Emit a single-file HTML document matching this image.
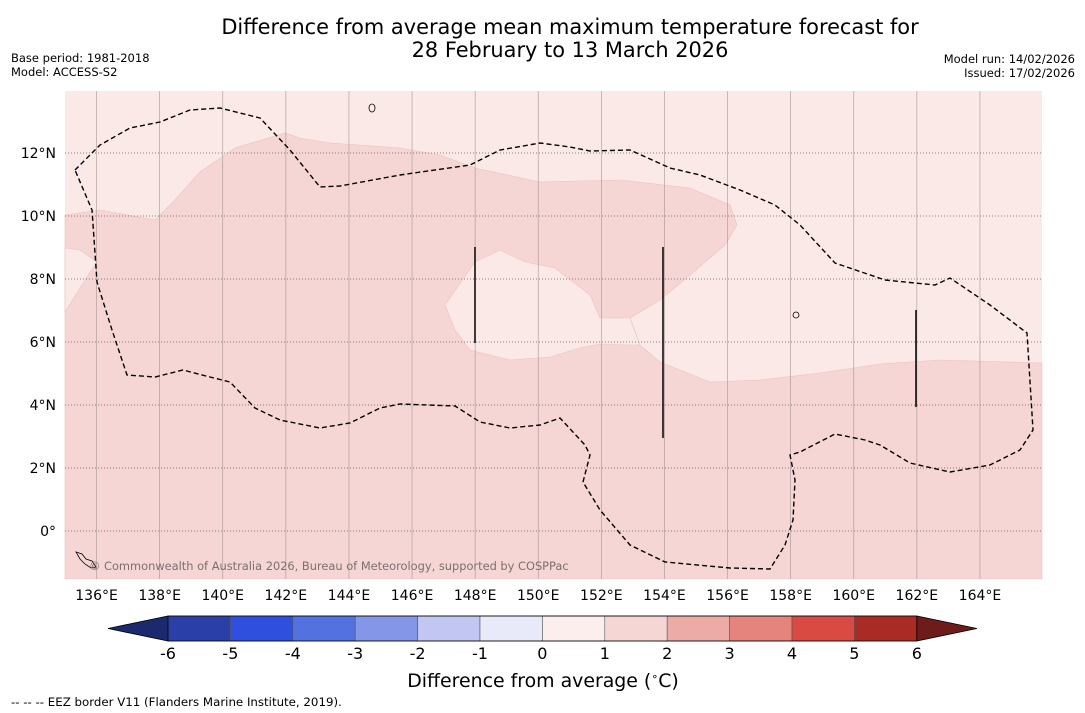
<!DOCTYPE html>
<html><head><meta charset="utf-8">
<style>
body{margin:0;background:#fff;}
svg{display:block;font-family:"DejaVu Sans","Liberation Sans",sans-serif;}
</style></head>
<body>
<svg id="chart" width="1085" height="713" viewBox="0 0 1085 713" xmlns="http://www.w3.org/2000/svg">
<rect width="1085" height="713" fill="#fff"/>
<text x="570" y="34" font-size="20.9" text-anchor="middle" fill="#000">Difference from average mean maximum temperature forecast for</text>
<text x="570" y="57" font-size="20.9" text-anchor="middle" fill="#000">28 February to 13 March 2026</text>
<text x="11" y="62" font-size="11.5">Base period: 1981-2018</text>
<text x="11" y="76" font-size="11.5">Model: ACCESS-S2</text>
<text x="1075" y="63" font-size="11.5" text-anchor="end">Model run: 14/02/2026</text>
<text x="1075" y="77" font-size="11.5" text-anchor="end">Issued: 17/02/2026</text>
<g id="map">
<rect x="65" y="91" width="977" height="488" fill="#fbe9e7"/>
<polygon fill="#f5d6d4" stroke="#e8c4c2" stroke-width="0.6" points="65,215 100,210 155,220 175,200 200,172 235,148 285,133 300,138 330,143 400,148 440,155 475,168 540,182 620,180 690,188 730,205 737,225 725,245 690,275 660,300 630,318 640,345 660,362 710,382 760,380 820,373 880,364 940,360 1042,363 1042,579 65,579"/>
<polygon fill="#fbe9e7" stroke="#e8c4c2" stroke-width="0.6" points="445,305 475,262 500,250 525,262 555,268 590,295 600,318 630,318 640,345 630,345 600,344 580,348 550,357 510,360 470,350 455,330"/>
<polygon fill="#fbe9e7" stroke="#e8c4c2" stroke-width="0.6" points="65,248 80,250 97,262 85,280 65,312"/>
<g id="grid"></g>
<polyline fill="none" stroke="#000" stroke-width="1.4" stroke-dasharray="5,3" points="75,170 100,145 130,128 160,122 190,110 220,108 260,118 290,150 320,187 340,186 400,175 470,165 500,150 540,143 570,147 590,151 630,150 670,168 700,175 740,190 775,205 800,225 835,263 885,280 935,285 950,278 990,305 1027,333 1033,430 1020,450 990,465 950,472 910,463 880,445 865,440 835,434 800,452 790,455 795,480 793,520 785,545 770,569 730,568 665,562 630,545 600,510 583,482 590,455 585,445 560,418 540,425 510,428 480,422 455,406 400,404 380,408 350,423 320,428 280,420 255,408 230,382 210,377 183,370 155,377 127,375 112,330 97,282 92,210 75,170"/>
<line x1="475" y1="247" x2="475" y2="343" stroke="#000" stroke-width="1.5"/>
<line x1="663" y1="247" x2="663" y2="438" stroke="#000" stroke-width="1.5"/>
<line x1="916" y1="310" x2="916" y2="407" stroke="#000" stroke-width="1.5"/>
<path d="M76,552 l6,2 4,5 6,2 4,6 -5,1 -6,-4 -5,-5z" fill="none" stroke="#000" stroke-width="0.8"/>
<ellipse cx="796" cy="315" rx="3" ry="3" fill="none" stroke="#000" stroke-width="0.8"/>
<ellipse cx="372" cy="108" rx="3" ry="4" fill="none" stroke="#000" stroke-width="0.8"/>
<text x="89" y="570" font-size="11.4" fill="#7a7070">© Commonwealth of Australia 2026, Bureau of Meteorology, supported by COSPPac</text>
</g>
<g id="xticks"></g>
<g id="ylabels"></g>
<g id="colorbar"></g>
<text x="543" y="687" font-size="18.9" text-anchor="middle">Difference from average (<tspan font-size="11" dy="-7">∘</tspan><tspan dy="7">C)</tspan></text>
<text x="11" y="706" font-size="11.8">--  --  -- EEZ border V11 (Flanders Marine Institute, 2019).</text>
</svg>
<script>
const lonTicks=[136,138,140,142,144,146,148,150,152,154,156,158,160,162,164];
const latTicks=[0,2,4,6,8,10,12];
const cbLevels=[-6,-5,-4,-3,-2,-1,0,1,2,3,4,5,6];
const cbColors=["#2a3fa8","#2f4fdf","#5471e0","#8496e8","#c1c7f2","#e8eaf9","#fdeeee","#f6d6d4","#edaba6","#e5837d","#d84a42","#aa2b25"];
const cbLow="#1b2a6e", cbHigh="#6e1c19";
const NS="http://www.w3.org/2000/svg";
const lonX=l=>65+(l-135)*31.55;
const latY=l=>531-l*31.5;
function mk(tag,attrs,parent){const e=document.createElementNS(NS,tag);for(const k in attrs)e.setAttribute(k,attrs[k]);parent.appendChild(e);return e;}
const grid=document.getElementById('grid');
lonTicks.forEach(l=>{
 const ln=mk('line',{x1:lonX(l),x2:lonX(l),y1:91,y2:579,stroke:'#a09090','stroke-width':0.7,'stroke-opacity':0.8},grid);
 
 
 const t=mk('text',{x:lonX(l),y:600,'font-size':14,'text-anchor':'middle'},document.getElementById('xticks'));
 t.textContent=l+'°E';
 
 
});
latTicks.forEach(l=>{
 const ln=mk('line',{x1:65,x2:1042,y1:latY(l),y2:latY(l),stroke:'#606060','stroke-width':0.8,'stroke-dasharray':'1,2'},grid);
 
 
 const t=mk('text',{x:56,y:latY(l)+5,'font-size':14,'text-anchor':'end'},document.getElementById('ylabels'));
 t.textContent=l===0?'0°':l+'°N';
 
 
});
const cb=document.getElementById('colorbar');
const cbX=v=>168+(v+6)*62.4, cbTop=616, cbH=25;
const lt=mk('polygon',{points:`108,${cbTop+cbH/2} ${cbX(-6)},${cbTop} ${cbX(-6)},${cbTop+cbH}`,fill:cbLow,stroke:'#000','stroke-width':0.8},cb);


const rt=mk('polygon',{points:`977,${cbTop+cbH/2} ${cbX(6)},${cbTop} ${cbX(6)},${cbTop+cbH}`,fill:cbHigh,stroke:'#000','stroke-width':0.8},cb);


cbColors.forEach((c,i)=>{
 const r=mk('rect',{x:cbX(cbLevels[i]),y:cbTop,width:cbX(cbLevels[i+1])-cbX(cbLevels[i]),height:cbH,fill:c,stroke:'#555','stroke-width':0.6},cb);
 
 
});
mk('rect',{x:cbX(-6),y:cbTop,width:cbX(6)-cbX(-6),height:cbH,fill:'none',stroke:'#000','stroke-width':0.8},cb);
cbLevels.forEach(v=>{
 const t=mk('text',{x:cbX(v),y:659,'font-size':16,'text-anchor':'middle'},cb);
 t.textContent=v;
 
 
});
</script>
</body></html>
